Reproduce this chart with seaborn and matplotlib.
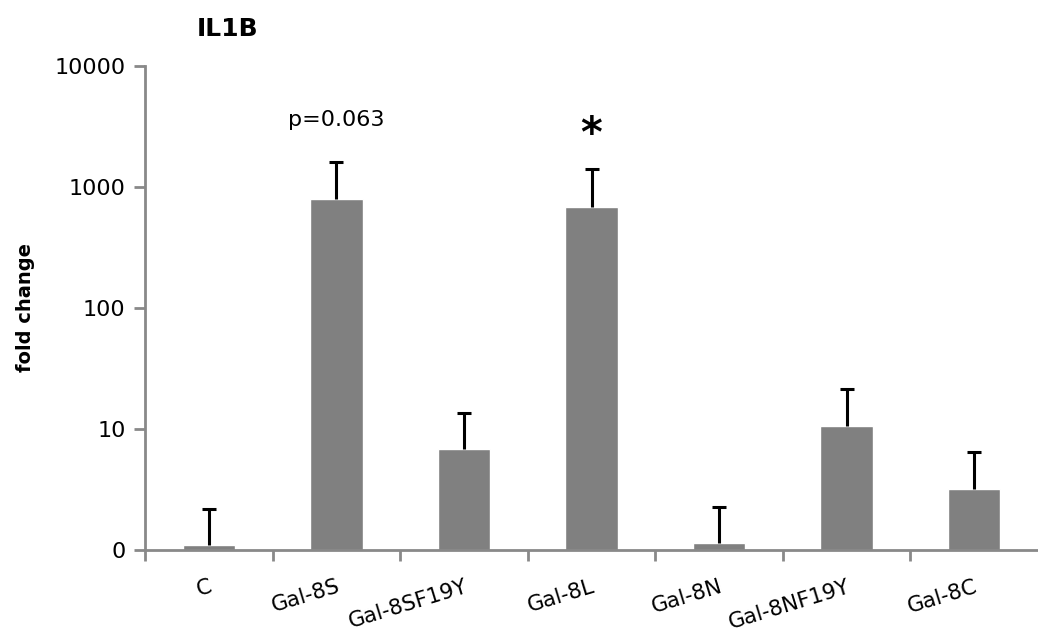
import numpy as np
import pandas as pd
import matplotlib
matplotlib.use("Agg")
import matplotlib.pyplot as plt
import seaborn as sns

# Values (log scale, fold change)
groups = ["C", "Gal-8S", "Gal-8SF19Y", "Gal-8L", "Gal-8N", "Gal-8NF19Y", "Gal-8C"]
fold_change = [1.1, 795, 6.8, 684, 1.14, 10.6, 3.2]
upper_err = [1.1, 825, 6.8, 725, 1.13, 10.8, 3.3]

y_ticks = [1, 10, 100, 1000, 10000]
y_tick_labels = ["0", "10", "100", "1000", "10000"]

df = pd.DataFrame({"group": groups, "fold change": fold_change})

sns.set_style("white")
plt.rcParams["font.family"] = ["DejaVu Sans"]
plt.rcParams["text.color"] = "black"
plt.rcParams["xtick.color"] = "black"
plt.rcParams["ytick.color"] = "black"

fig = plt.figure(figsize=(10.38, 6.4), dpi=100)
ax = fig.add_axes([0.1397, 0.1406, 0.8603, 0.7563])

sns.barplot(data=df, x="group", y="fold change", color="#808080",
            saturation=1, width=0.41, ax=ax, errorbar=None)
ax.set_yscale("log")
eb = ax.errorbar(np.arange(len(groups)), fold_change,
                 yerr=[np.zeros(len(groups)), upper_err],
                 fmt="none", ecolor="black", elinewidth=2.2, capsize=5,
                 capthick=2.2)
# only the upper cap, like the original
eb[1][0].set_visible(False)

ax.set_ylim(1, 10000)
ax.set_xlim(-0.5, len(groups) - 0.5)
ax.set_yticks(y_ticks)
ax.set_yticklabels(y_tick_labels, fontsize=16)
ax.yaxis.set_minor_locator(matplotlib.ticker.NullLocator())

# category labels without ticks, tick marks at boundaries
ax.set_xticks(np.arange(len(groups)))
ax.set_xticklabels(groups, rotation=17, ha="right", rotation_mode="anchor",
                   fontsize=15.5)
ax.set_xticks(np.arange(-0.5, len(groups) - 0.5, 1), minor=True)
ax.tick_params(axis="x", which="major", bottom=True, length=0, pad=19)
ax.tick_params(axis="x", which="minor", bottom=True, length=8, width=2,
               color="#898989", direction="out")
ax.tick_params(axis="y", which="major", left=True, length=8, width=2,
               color="#898989", labelcolor="black", direction="out", pad=6)

for side in ["top", "right"]:
    ax.spines[side].set_visible(False)
for side in ["left", "bottom"]:
    ax.spines[side].set_color("#898989")
    ax.spines[side].set_linewidth(2)

ax.set_xlabel("")
ax.set_ylabel("fold change", fontsize=14, fontweight="bold", labelpad=14,
              color="black")

fig.text(0.19, 0.955, "IL1B", fontsize=18, fontweight="bold", va="center")

ax.text(1, 3560, "p=0.063", fontsize=16, ha="center", va="center")
ax.text(3, 2700, "*", fontsize=30, fontweight="bold", ha="center", va="center")

plt.savefig("out.png", dpi=100)
